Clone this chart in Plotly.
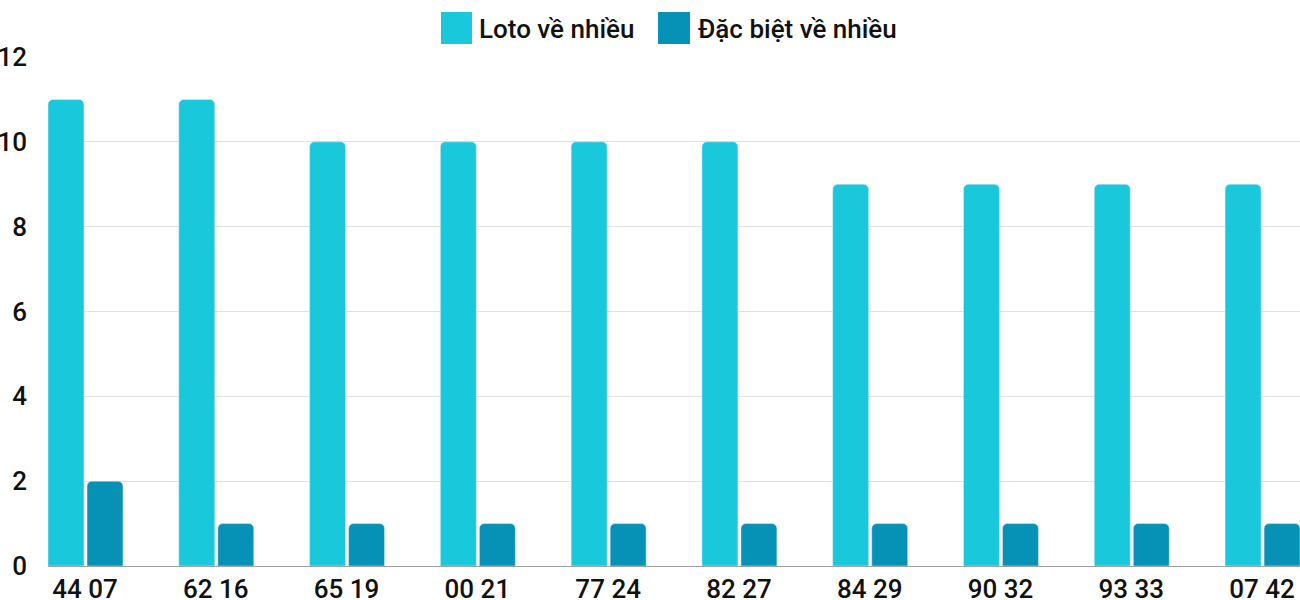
import plotly.graph_objects as go

categories = ["44 07", "62 16", "65 19", "00 21", "77 24", "82 27", "84 29", "90 32", "93 33", "07 42"]
loto_values = [11, 11, 10, 10, 10, 10, 9, 9, 9, 9]
db_values = [2, 1, 1, 1, 1, 1, 1, 1, 1, 1]
series_names = ["Loto về nhiều", "Đặc biệt về nhiều"]
y_ticks = [0, 2, 4, 6, 8, 10, 12]

C_LOTO = "#1ac8db"
C_DB = "#0592b6"
FONT = "Roboto"
FS = 26
FW = 500

W, H = 1300, 600
ML, MR, MT, MB = 48, 0, 57, 34
PW, PH = W - ML - MR, H - MT - MB


def px(xp):
    return (xp - ML) / PW


def py(yp):
    return (H - MB - yp) / PH


fig = go.Figure()
fig.add_trace(go.Bar(x=categories, y=loto_values, name=series_names[0],
                     marker_color=C_LOTO, width=0.275, offset=-0.283,
                     showlegend=False))
fig.add_trace(go.Bar(x=categories, y=db_values, name=series_names[1],
                     marker_color=C_DB, width=0.275, offset=0.0153,
                     showlegend=False))

# manual legend
shapes = []
annotations = []
legend_items = [(441, 472, 477, C_LOTO, series_names[0]),
                (658, 690, 696, C_DB, series_names[1])]
for x0, x1, tx, col, name in legend_items:
    shapes.append(dict(type="rect", xref="paper", yref="paper",
                       x0=px(x0), x1=px(x1), y0=py(44), y1=py(12),
                       fillcolor=col, line=dict(width=0)))
    annotations.append(dict(xref="paper", yref="paper", x=px(tx), y=py(29),
                            xanchor="left", yanchor="middle", text=name,
                            showarrow=False,
                            font=dict(family=FONT, size=FS, weight=FW, color="#111111")))

fig.update_layout(
    width=W, height=H,
    margin=dict(l=ML, r=MR, t=MT, b=MB, autoexpand=False),
    plot_bgcolor="white", paper_bgcolor="white",
    barcornerradius=5,
    shapes=shapes, annotations=annotations,
    font=dict(family=FONT, size=FS, weight=FW, color="#111111"),
    xaxis=dict(type="category", range=[-0.283, 9.29], showgrid=False,
               showline=True, linecolor="#9e9e9e", linewidth=1,
               ticks="", automargin=False,
               tickfont=dict(size=FS, weight=FW, color="#111111"),
               fixedrange=True),
    yaxis=dict(range=[0, 12], tickvals=y_ticks, showgrid=True,
               gridcolor="#e0e0e0", gridwidth=1, zeroline=False,
               ticks="", ticklabelstandoff=20, automargin=False,
               tickfont=dict(size=FS, weight=FW, color="#111111"), fixedrange=True),
)

fig.write_html("out.html", config={"displayModeBar": False},
               post_script="document.body.style.margin='0';document.body.style.overflow='hidden';")
